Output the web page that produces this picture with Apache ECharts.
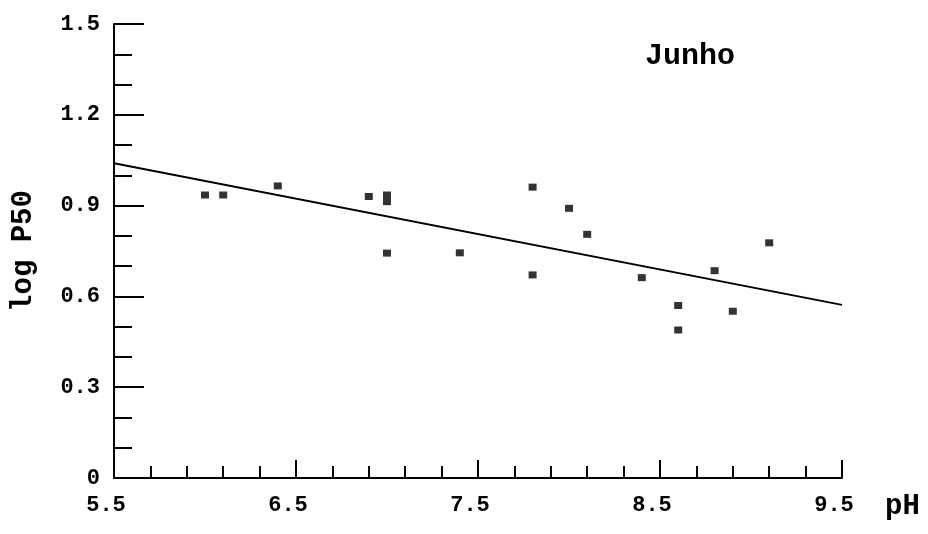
<!DOCTYPE html>
<html>
<head>
<meta charset="utf-8">
<script src="https://cdn.jsdelivr.net/npm/echarts@6.0.0/dist/echarts.min.js"></script>
<style>
  html, body { margin: 0; padding: 0; background: #fff; }
  #root { width: 928px; height: 534px; }
</style>
</head>
<body>
<div id="root"></div>
<script>
// measured points (pH, log P50)
const phValues = [6.0, 6.1, 6.4, 6.9, 7.0, 7.0, 7.0, 7.4, 7.8, 7.8, 8.0, 8.1, 8.4, 8.6, 8.6, 8.8, 8.9, 9.1]
const logP50 = [0.935, 0.935, 0.965, 0.93, 0.935, 0.913, 0.743, 0.744, 0.961, 0.671, 0.891, 0.805, 0.662, 0.57, 0.489, 0.685, 0.551, 0.777]
// regression line end points
const fitX = [5.5, 9.5]
const fitY = [1.04, 0.572]

const font = 'Liberation Mono'

const points = phValues.map((x, i) => [x, logP50[i]])
const fit = fitX.map((x, i) => [x, fitY[i]])

const chart = echarts.init(document.getElementById('root'))

const option = {
  animation: false,
  backgroundColor: '#fff',
  title: {
    text: 'Junho',
    left: 640,
    top: 36,
    textStyle: { fontFamily: font, fontSize: 30, fontWeight: 'bold', color: '#000' }
  },
  grid: { left: 114, right: 86, top: 24, bottom: 56 },
  xAxis: {
    type: 'value',
    min: 5.5,
    max: 9.5,
    interval: 1,
    name: 'pH',
    nameLocation: 'end',
    nameGap: 43,
    nameTextStyle: {
      fontFamily: font, fontSize: 29, color: '#000', fontWeight: 'bold',
      align: 'left', verticalAlign: 'top', padding: [14, 0, 0, 0]
    },
    axisLine: { lineStyle: { color: '#000', width: 2 } },
    axisTick: { inside: true, length: 18, lineStyle: { color: '#000', width: 2 } },
    minorTick: { show: true, splitNumber: 5, length: 12, lineStyle: { color: '#000', width: 2 } },
    axisLabel: {
      margin: 16, color: '#000', fontFamily: font, fontSize: 22, fontWeight: 'bold',
      padding: [0, 16, 0, 0],
      formatter: v => v.toFixed(1)
    },
    splitLine: { show: false }
  },
  yAxis: {
    type: 'value',
    min: 0,
    max: 1.5,
    interval: 0.3,
    name: 'log P50',
    nameLocation: 'middle',
    nameGap: 76,
    nameTextStyle: { fontFamily: font, fontSize: 29, color: '#000', fontWeight: 'bold' },
    axisLine: { show: true, lineStyle: { color: '#000', width: 2 } },
    axisTick: { show: true, inside: true, length: 30, lineStyle: { color: '#000', width: 2 } },
    minorTick: { show: true, splitNumber: 3, length: 18, lineStyle: { color: '#000', width: 2 } },
    axisLabel: {
      margin: 14, color: '#000', fontFamily: font, fontSize: 22, fontWeight: 'bold',
      formatter: v => (v === 0 ? '0' : v.toFixed(1))
    },
    splitLine: { show: false }
  },
  series: [
    {
      type: 'scatter',
      data: points,
      symbol: 'rect',
      symbolSize: [8, 7],
      itemStyle: { color: '#000' }
    },
    {
      type: 'line',
      data: fit,
      showSymbol: false,
      symbol: 'none',
      lineStyle: { color: '#000', width: 2 }
    }
  ]
}

chart.setOption(option)
</script>
</body>
</html>
